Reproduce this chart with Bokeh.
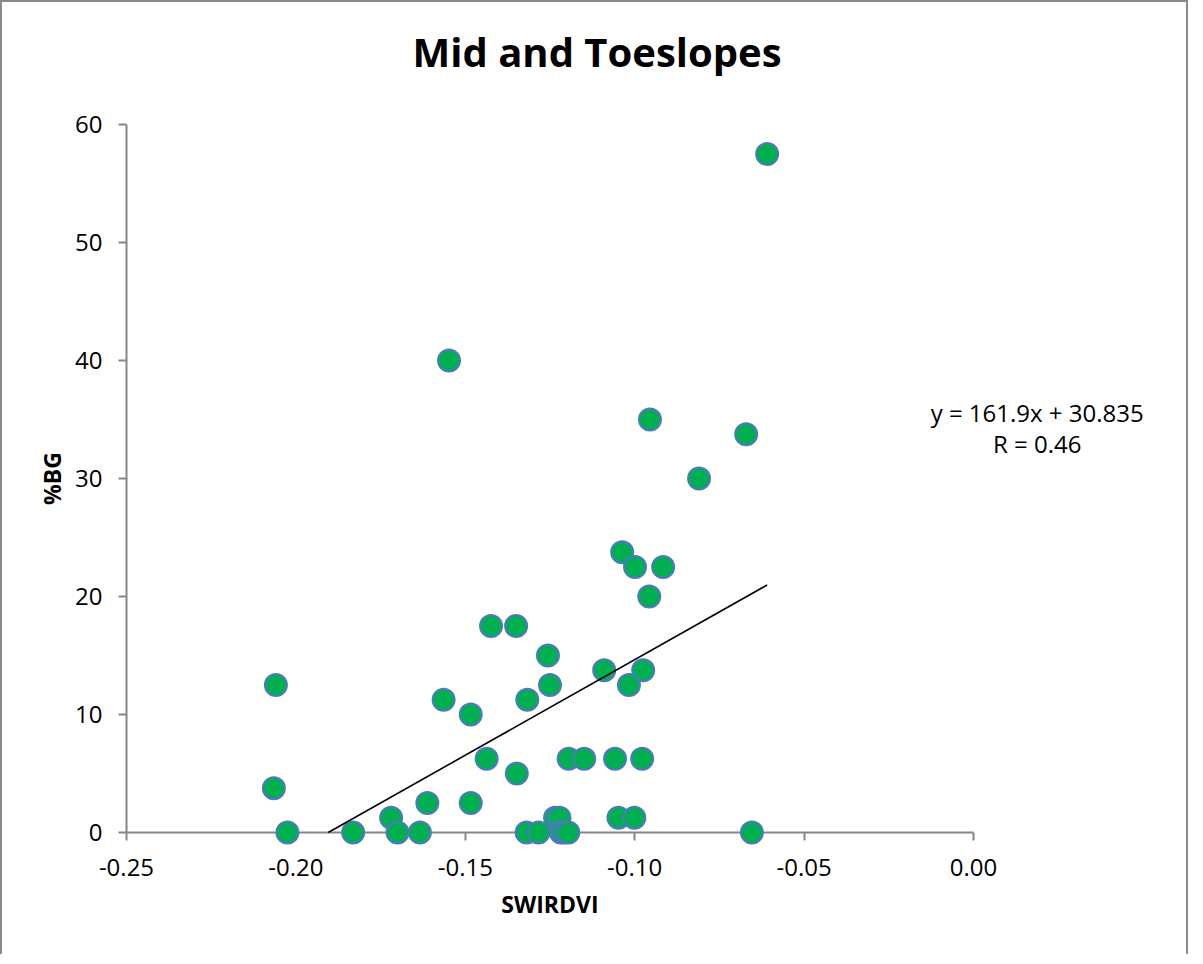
from bokeh.plotting import figure
from bokeh.models import Range1d, FixedTicker, NumeralTickFormatter, ColumnDataSource
from bokeh.core.properties import value
from bokeh.embed import file_html
from bokeh.resources import INLINE

# ---- data ----
swirdvi = [-0.0609, -0.1548, -0.0955, -0.0671, -0.0810, -0.1037, -0.0999, -0.0916,
           -0.0957, -0.1424, -0.1350, -0.1256, -0.1090, -0.0975, -0.2059, -0.1250,
           -0.1017, -0.1564, -0.1317, -0.1484, -0.1437, -0.1195, -0.1149, -0.1058,
           -0.0978, -0.1348, -0.2065, -0.1612, -0.1484, -0.1719, -0.1235, -0.1222,
           -0.1048, -0.1001, -0.2025, -0.1831, -0.1700, -0.1634, -0.1319, -0.1284,
           -0.1218, -0.1208, -0.1196, -0.0654]
pct_bg = [57.5, 40.0, 35.0, 33.75, 30.0, 23.75, 22.5, 22.5,
          20.0, 17.5, 17.5, 15.0, 13.75, 13.75, 12.5, 12.5,
          12.5, 11.25, 11.25, 10.0, 6.25, 6.25, 6.25, 6.25,
          6.25, 5.0, 3.75, 2.5, 2.5, 1.25, 1.25, 1.25,
          1.25, 1.25, 0.0, 0.0, 0.0, 0.0, 0.0, 0.0,
          0.0, 0.0, 0.0, 0.0]
slope = 161.9
intercept = 30.835
r_value = 0.46
title_text = "Mid and Toeslopes"
x_title = "SWIRDVI"
y_title = "%BG"
x_ticks = [-0.25, -0.20, -0.15, -0.10, -0.05, 0.00]
y_ticks = [0, 10, 20, 30, 40, 50, 60]

FONT = "Open Sans"
AXIS_GRAY = "#868686"

p = figure(width=1188, height=954, output_backend="svg", toolbar_location=None,
           x_range=Range1d(x_ticks[0], x_ticks[-1]), y_range=Range1d(y_ticks[0], y_ticks[-1]),
           min_border_left=124, min_border_right=217, min_border_top=122, min_border_bottom=124)
p.styles = {"border-left": "2px solid #8a8a8a", "border-top": "2px solid #8a8a8a",
            "border-right": "2px solid #8a8a8a"}
p.outline_line_color = None
p.grid.visible = False
p.background_fill_color = "white"
p.border_fill_color = "white"

for ax in (p.xaxis[0], p.yaxis[0]):
    ax.axis_line_color = AXIS_GRAY
    ax.axis_line_width = 2
    ax.major_tick_line_color = AXIS_GRAY
    ax.major_tick_line_width = 2
    ax.major_tick_in = 0
    ax.major_tick_out = 8
    ax.minor_tick_line_color = None
    ax.major_label_text_font = FONT
    ax.major_label_text_font_size = "24px"
    ax.major_label_text_color = "black"
    ax.axis_label_text_font = FONT
    ax.axis_label_text_font_size = "23px"
    ax.axis_label_text_font_style = "bold"
    ax.axis_label_text_color = "black"

p.xaxis.ticker = FixedTicker(ticks=x_ticks)
p.xaxis.formatter = NumeralTickFormatter(format="0.00")
p.xaxis.major_label_standoff = 18
p.xaxis.axis_label = x_title
p.xaxis.axis_label_standoff = 9

p.yaxis.ticker = FixedTicker(ticks=y_ticks)
p.yaxis.major_label_standoff = 16
p.yaxis.axis_label = y_title
p.yaxis.axis_label_standoff = 4

src = ColumnDataSource(dict(x=swirdvi, y=pct_bg))
p.scatter("x", "y", source=src, size=22, fill_color="#00B050",
          line_color="#4F78C4", line_width=2, level="overlay")

# trendline from the displayed equation, starting where it meets y = 0
x0 = max(min(swirdvi), -intercept / slope)
x1 = max(swirdvi)
p.line([x0, x1], [slope * x0 + intercept, slope * x1 + intercept],
       line_color="black", line_width=1.6, level="overlay")

# chart title (placed over the whole chart area)
p.text(x=[-0.1111], y=[66.2], text=[title_text], text_align="center",
       text_baseline="middle", text_font=value(FONT), text_font_size="40px",
       text_font_style="bold", text_color="black", level="overlay")

# trendline equation
p.text(x=[0.0188, 0.0188], y=[35.6, 33.0],
       text=[f"y = {slope}x + {intercept}", f"R = {r_value}"],
       text_align="center", text_baseline="middle", text_font=value(FONT),
       text_font_size="24px", text_color="black", level="overlay")

open("out.html", "w").write(file_html(p, INLINE))
